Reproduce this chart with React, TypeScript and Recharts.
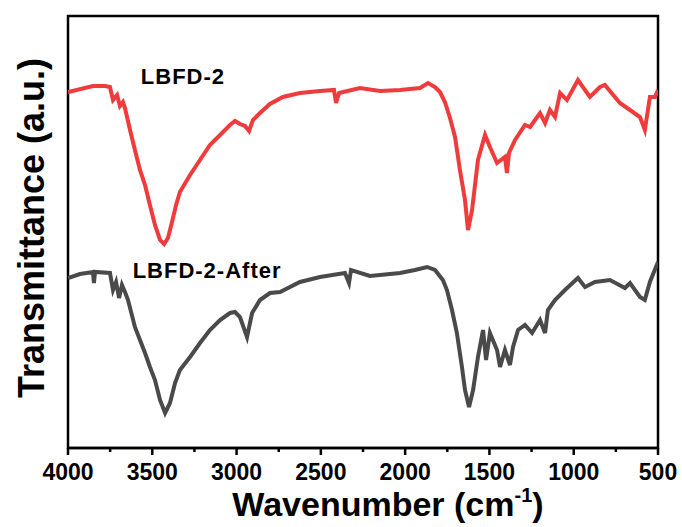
import React from 'react';
import {
  LineChart,
  Line,
  XAxis,
  YAxis,
  Label,
  ReferenceArea,
  ReferenceDot,
} from 'recharts';

// wavenumber (cm-1) and transmittance (a.u.)
const lbfdWavenumber = [
  4000, 3852, 3780, 3751, 3733, 3709, 3692, 3674, 3662, 3632, 3603, 3573, 3543, 3514, 3484,
  3454, 3430, 3407, 3383, 3359, 3336, 3276, 3217, 3158, 3098, 3039, 3009, 2980, 2950, 2926,
  2903, 2861, 2802, 2725, 2624, 2505, 2422, 2410, 2392, 2268, 2149, 2030, 1912, 1864, 1823,
  1793, 1764, 1734, 1704, 1675, 1645, 1627, 1603, 1568, 1526, 1497, 1455, 1408, 1396, 1384,
  1348, 1289, 1259, 1200, 1170, 1141, 1111, 1081, 1040, 975, 904, 844, 815, 726, 666,
  607, 578, 548, 518, 500,
];
const lbfdValues = [
  358, 364, 364, 363, 350, 355, 344, 348, 342, 320, 300, 280, 265, 245, 225,
  210, 206, 212, 228, 245, 258, 275, 290, 305, 315, 325, 329, 326, 324, 319,
  330, 337, 346, 353, 357, 359, 360, 347, 357, 362, 359, 360, 362, 367, 363,
  358, 348, 332, 313, 280, 250, 220, 240, 290, 315, 303, 287, 293, 277, 297,
  310, 325, 323, 337, 327, 340, 333, 357, 350, 370, 353, 363, 365, 347, 340,
  333, 320, 353, 353, 360,
];

const afterWavenumber = [
  4000, 3929, 3852, 3846, 3840, 3751, 3733, 3715, 3697, 3680, 3662, 3644, 3603, 3573, 3543,
  3514, 3484, 3454, 3424, 3395, 3365, 3336, 3276, 3217, 3158, 3098, 3039, 3009, 2980, 2938,
  2908, 2861, 2802, 2742, 2624, 2505, 2357, 2333, 2321, 2209, 2030, 1942, 1870, 1823, 1776,
  1752, 1722, 1693, 1663, 1645, 1621, 1597, 1568, 1538, 1520, 1497, 1455, 1437, 1408, 1378,
  1360, 1330, 1289, 1247, 1200, 1170, 1153, 1111, 1052, 975, 933, 874, 785, 696, 666,
  607, 578, 548, 500,
];
const afterValues = [
  172, 176, 178, 167, 178, 177, 160, 168, 152, 165, 158, 150, 123, 110, 97,
  83, 70, 50, 37, 47, 67, 80, 93, 107, 120, 130, 137, 138, 133, 113,
  137, 150, 157, 158, 168, 173, 177, 167, 180, 174, 177, 180, 183, 180, 170,
  160, 140, 117, 83, 60, 43, 60, 93, 120, 90, 117, 100, 83, 100, 85,
  103, 120, 125, 117, 130, 117, 140, 150, 160, 172, 163, 168, 170, 162, 167,
  153, 150, 168, 188,
];

const majorTicks = [4000, 3500, 3000, 2500, 2000, 1500, 1000, 500];
const allTicks = [4000, 3750, 3500, 3250, 3000, 2750, 2500, 2250, 2000, 1750, 1500, 1250, 1000, 750, 500];

const lbfdData = lbfdWavenumber.map((wn, i) => ({ wn, t: lbfdValues[i] }));
const afterData = afterWavenumber.map((wn, i) => ({ wn, t: afterValues[i] }));

const FONT = '"Liberation Sans", Arial, sans-serif';

const WnTick = ({ x, y, payload }: any) => {
  const major = majorTicks.includes(payload.value);
  return (
    <g>
      <line x1={x} x2={x} y1={y} y2={y + (major ? 7 : 4)} stroke="#000" strokeWidth={2.5} />
      {major && (
        <text x={x} y={y + 32} textAnchor="middle" fontFamily={FONT} fontWeight="bold" fontSize={23} fill="#000">
          {payload.value}
        </text>
      )}
    </g>
  );
};

const renderXTitle = (props: any) => {
  const { x, y, width } = props.viewBox;
  return (
    <text x={x + width / 2 + 25} y={y + 68} textAnchor="middle" fontFamily={FONT} fontWeight="bold" fontSize={34} fill="#000">
      Wavenumber (cm
      <tspan fontSize={20} dy={-14}>-1</tspan>
      <tspan dy={14}>)</tspan>
    </text>
  );
};

const renderYTitle = (props: any) => {
  const { x, y, height } = props.viewBox;
  const cx = x + 44;
  const cy = y + height / 2 - 4;
  return (
    <text x={cx} y={cy} transform={`rotate(-90 ${cx} ${cy})`} textAnchor="middle" fontFamily={FONT} fontWeight="bold" fontSize={36} fill="#000">
      Transmittance (a.u.)
    </text>
  );
};

export default function App() {
  return (
    <div style={{ position: 'absolute', left: 0, top: 0, background: '#fff' }}>
      <LineChart width={682} height={527} margin={{ top: 16, right: 24, bottom: 39, left: 0 }}>
        <XAxis
          type="number"
          dataKey="wn"
          domain={[500, 4000]}
          reversed
          allowDataOverflow
          ticks={allTicks}
          interval={0}
          tick={<WnTick />}
          tickLine={false}
          tickSize={0}
          tickMargin={0}
          height={40}
          axisLine={{ stroke: '#000', strokeWidth: 2.5 }}
        >
          <Label content={renderXTitle} />
        </XAxis>
        <YAxis
          type="number"
          dataKey="t"
          domain={[2, 434]}
          allowDataOverflow
          width={68}
          tick={false}
          tickLine={false}
          axisLine={false}
        >
          <Label content={renderYTitle} />
        </YAxis>
        <Line data={lbfdData} dataKey="t" type="linear" stroke="#ef3b3b" strokeWidth={4} dot={false} isAnimationActive={false} />
        <Line data={afterData} dataKey="t" type="linear" stroke="#4a4a4a" strokeWidth={4} dot={false} isAnimationActive={false} />
        <ReferenceArea x1={4000} x2={500} y1={2} y2={434} fill="none" stroke="#000" strokeWidth={2.5} ifOverflow="visible" />
        <ReferenceDot
          x={3318}
          y={374}
          r={0}
          label={{ value: 'LBFD-2', position: 'center', fontFamily: FONT, fontWeight: 'bold', fontSize: 22, letterSpacing: 1, fill: '#000' }}
        />
        <ReferenceDot
          x={3175}
          y={180}
          r={0}
          label={{ value: 'LBFD-2-After', position: 'center', fontFamily: FONT, fontWeight: 'bold', fontSize: 22, letterSpacing: 1, fill: '#000' }}
        />
      </LineChart>
    </div>
  );
}
